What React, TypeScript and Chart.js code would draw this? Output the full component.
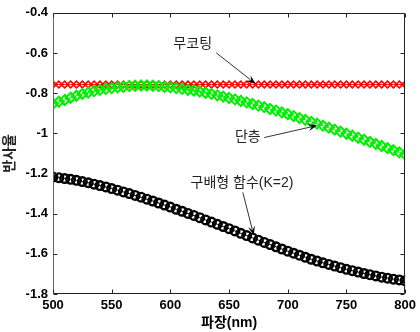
import React, { useEffect, useRef } from "react";
import { Chart, registerables } from "chart.js";

Chart.register(...registerables);

const wavelengths = [
  500, 505, 510, 515, 520, 525, 530, 535, 540, 545, 550, 555, 560, 565, 570, 575, 580, 585, 590, 595,
  600, 605, 610, 615, 620, 625, 630, 635, 640, 645, 650, 655, 660, 665, 670, 675, 680, 685, 690, 695,
  700, 705, 710, 715, 720, 725, 730, 735, 740, 745, 750, 755, 760, 765, 770, 775, 780, 785, 790, 795, 800,
];

const noCoating = [
  -0.757, -0.757, -0.757, -0.757, -0.757, -0.757, -0.757, -0.757, -0.757, -0.757, -0.757, -0.757, -0.757,
  -0.757, -0.757, -0.757, -0.757, -0.757, -0.757, -0.757, -0.757, -0.757, -0.757, -0.757, -0.757, -0.757,
  -0.757, -0.757, -0.757, -0.757, -0.757, -0.757, -0.757, -0.757, -0.757, -0.757, -0.757, -0.757, -0.757,
  -0.757, -0.757, -0.757, -0.757, -0.757, -0.757, -0.757, -0.757, -0.757, -0.757, -0.757, -0.757, -0.757,
  -0.757, -0.757, -0.757, -0.757, -0.757, -0.757, -0.757, -0.757, -0.757,
];

const singleLayer = [
  -0.853, -0.843, -0.834, -0.823, -0.813, -0.804, -0.797, -0.79, -0.784, -0.779, -0.775, -0.771, -0.768,
  -0.765, -0.763, -0.762, -0.762, -0.763, -0.765, -0.768, -0.771, -0.775, -0.779, -0.783, -0.787, -0.792,
  -0.798, -0.804, -0.811, -0.817, -0.824, -0.831, -0.839, -0.846, -0.854, -0.862, -0.87, -0.879, -0.887,
  -0.896, -0.905, -0.914, -0.924, -0.933, -0.943, -0.952, -0.962, -0.972, -0.982, -0.992, -1.002, -1.012,
  -1.022, -1.032, -1.043, -1.053, -1.063, -1.074, -1.084, -1.095, -1.105,
];

const gradedK2 = [
  -1.218, -1.221, -1.225, -1.229, -1.234, -1.24, -1.246, -1.253, -1.26, -1.267, -1.275, -1.283, -1.292,
  -1.3, -1.309, -1.318, -1.328, -1.337, -1.347, -1.357, -1.367, -1.378, -1.388, -1.399, -1.409, -1.42,
  -1.431, -1.442, -1.453, -1.464, -1.475, -1.486, -1.498, -1.509, -1.521, -1.532, -1.543, -1.554, -1.565,
  -1.576, -1.587, -1.597, -1.607, -1.617, -1.627, -1.636, -1.645, -1.653, -1.661, -1.669, -1.677, -1.684,
  -1.691, -1.698, -1.704, -1.71, -1.716, -1.721, -1.726, -1.73, -1.734,
];

const xTickValues = [500, 550, 600, 650, 700, 750, 800];
const yTickValues = [-0.4, -0.6, -0.8, -1, -1.2, -1.4, -1.6, -1.8];

const annotationTexts = ["무코팅", "단층", "구배형 함수(K=2)"];
const annotationTextAt = [
  [619, -0.556],
  [666, -1.021],
  [661, -1.249],
];
const annotationArrowFrom = [
  [639, -0.599],
  [680, -1.021],
  [661.7, -1.294],
];
const annotationArrowTo = [
  [672.5, -0.753],
  [725, -0.961],
  [671, -1.507],
];

const tickFont = "'Liberation Sans', Arial, sans-serif";
const krFont = "'Liberation Sans', 'Noto Sans CJK KR', sans-serif";

const framePlugin = {
  id: "frameTicks",
  afterDraw(chart: any) {
    const { ctx, chartArea, scales } = chart;
    const { left, right, top, bottom } = chartArea;
    const x = scales.x;
    const y = scales.y;
    const L = Math.round(left) + 0.5;
    const R = Math.round(right) - 0.5;
    const T = Math.round(top) + 0.5;
    const B = Math.round(bottom) - 0.5;
    ctx.save();
    ctx.lineWidth = 1;
    ctx.strokeStyle = "#222";
    ctx.beginPath();
    ctx.moveTo(L, T);
    ctx.lineTo(R, T);
    ctx.lineTo(R, B);
    ctx.lineTo(L, B);
    ctx.stroke();
    ctx.strokeStyle = "#666";
    ctx.beginPath();
    ctx.moveTo(L, T);
    ctx.lineTo(L, B);
    ctx.stroke();
    ctx.strokeStyle = "#222";
    const len = 4;
    ctx.beginPath();
    for (const v of xTickValues) {
      const px = Math.round(x.getPixelForValue(v)) + 0.5;
      ctx.moveTo(px, B);
      ctx.lineTo(px, B - len);
      ctx.moveTo(px, T);
      ctx.lineTo(px, T + len);
    }
    for (const v of yTickValues) {
      const py = Math.round(y.getPixelForValue(v)) + 0.5;
      ctx.moveTo(L, py);
      ctx.lineTo(L + len, py);
      ctx.moveTo(R, py);
      ctx.lineTo(R - len, py);
    }
    ctx.stroke();
    ctx.restore();
  },
};

const annotationPlugin = {
  id: "arrowNotes",
  afterDraw(chart: any) {
    const { ctx, scales } = chart;
    const x = scales.x;
    const y = scales.y;
    ctx.save();
    ctx.font = "14px " + krFont;
    ctx.fillStyle = "#222";
    ctx.textAlign = "center";
    ctx.textBaseline = "middle";
    annotationTexts.forEach((t, i) => {
      const [lx, ly] = annotationTextAt[i];
      ctx.fillText(t, x.getPixelForValue(lx), y.getPixelForValue(ly));
    });
    annotationTexts.forEach((_, i) => {
      const x0 = x.getPixelForValue(annotationArrowFrom[i][0]);
      const y0 = y.getPixelForValue(annotationArrowFrom[i][1]);
      const x1 = x.getPixelForValue(annotationArrowTo[i][0]);
      const y1 = y.getPixelForValue(annotationArrowTo[i][1]);
      const ang = Math.atan2(y1 - y0, x1 - x0);
      const head = 9;
      const wing = 3.5;
      ctx.strokeStyle = "#333";
      ctx.lineWidth = 1;
      ctx.beginPath();
      ctx.moveTo(x0, y0);
      ctx.lineTo(x1 - Math.cos(ang) * head * 0.7, y1 - Math.sin(ang) * head * 0.7);
      ctx.stroke();
      ctx.fillStyle = "#000";
      ctx.beginPath();
      ctx.moveTo(x1, y1);
      ctx.lineTo(
        x1 - Math.cos(ang) * head - Math.sin(ang) * wing,
        y1 - Math.sin(ang) * head + Math.cos(ang) * wing
      );
      ctx.lineTo(x1 - Math.cos(ang) * head * 0.6, y1 - Math.sin(ang) * head * 0.6);
      ctx.lineTo(
        x1 - Math.cos(ang) * head + Math.sin(ang) * wing,
        y1 - Math.sin(ang) * head - Math.cos(ang) * wing
      );
      ctx.closePath();
      ctx.fill();
    });
    ctx.restore();
  },
};

export default function App() {
  const ref = useRef<HTMLCanvasElement | null>(null);

  useEffect(() => {
    document.body.style.margin = "0";
    const canvas = ref.current;
    if (!canvas) return;
    const toPoints = (vals: number[]) => wavelengths.map((w, i) => ({ x: w, y: vals[i] }));
    const chart = new Chart(canvas, {
      type: "line",
      data: {
        datasets: [
          {
            label: "구배형 함수(K=2)",
            data: toPoints(gradedK2),
            borderColor: "#000",
            borderWidth: 1,
            pointStyle: "circle",
            pointRadius: 4.3,
            pointBorderWidth: 2.4,
            pointBorderColor: "#000",
            pointBackgroundColor: "rgba(0,0,0,0)",
            order: 0,
          },
          {
            label: "단층",
            data: toPoints(singleLayer),
            borderColor: "#00ff00",
            borderWidth: 1,
            pointStyle: "rectRot",
            pointRadius: 5,
            pointBorderWidth: 2,
            pointBorderColor: "#00f000",
            pointBackgroundColor: "rgba(0,0,0,0)",
            order: 1,
          },
          {
            label: "무코팅",
            data: toPoints(noCoating),
            borderColor: "#ff0000",
            borderWidth: 1,
            pointStyle: "rectRot",
            pointRadius: 3.4,
            pointBorderWidth: 1.6,
            pointBorderColor: "#ff0000",
            pointBackgroundColor: "rgba(0,0,0,0)",
            order: 2,
          },
        ],
      },
      options: {
        animation: false,
        responsive: false,
        layout: { padding: { top: 12, right: 7, left: 0, bottom: 0 } },
        plugins: { legend: { display: false }, tooltip: { enabled: false } },
        scales: {
          x: {
            type: "linear",
            min: 500,
            max: 800,
            grid: { display: false, drawTicks: false },
            border: { display: false },
            afterBuildTicks: (s: any) => {
              s.ticks = xTickValues.map((v) => ({ value: v }));
            },
            afterFit: (s: any) => {
              s.height = 38;
            },
            ticks: {
              padding: 4,
              color: "#000",
              maxRotation: 0,
              autoSkip: false,
              font: { family: tickFont, size: 13, weight: "bold" },
              callback: (v: any) => String(v),
            },
            title: {
              display: true,
              text: "파장(nm)",
              color: "#000",
              padding: { top: 0, bottom: 0 },
              font: { family: krFont, size: 14, weight: "bold" },
            },
          },
          y: {
            type: "linear",
            min: -1.8,
            max: -0.4,
            grid: { display: false, drawTicks: false },
            border: { display: false },
            afterBuildTicks: (s: any) => {
              s.ticks = yTickValues.map((v) => ({ value: v }));
            },
            afterFit: (s: any) => {
              s.width = 53;
            },
            ticks: {
              padding: 5,
              color: "#000",
              autoSkip: false,
              font: { family: tickFont, size: 13, weight: "bold" },
              callback: (v: any) => String(Number(Number(v).toFixed(1))),
            },
            title: {
              display: true,
              text: "반사율",
              color: "#222",
              padding: { top: 2, bottom: 0 },
              font: { family: krFont, size: 14, weight: "bold" },
            },
          },
        },
      },
      plugins: [framePlugin, annotationPlugin],
    });
    return () => chart.destroy();
  }, []);

  return (
    <div style={{ position: "absolute", left: 0, top: 0, width: 420, height: 332, background: "#fff" }}>
      <canvas ref={ref} width={420} height={332} style={{ display: "block" }} />
    </div>
  );
}
